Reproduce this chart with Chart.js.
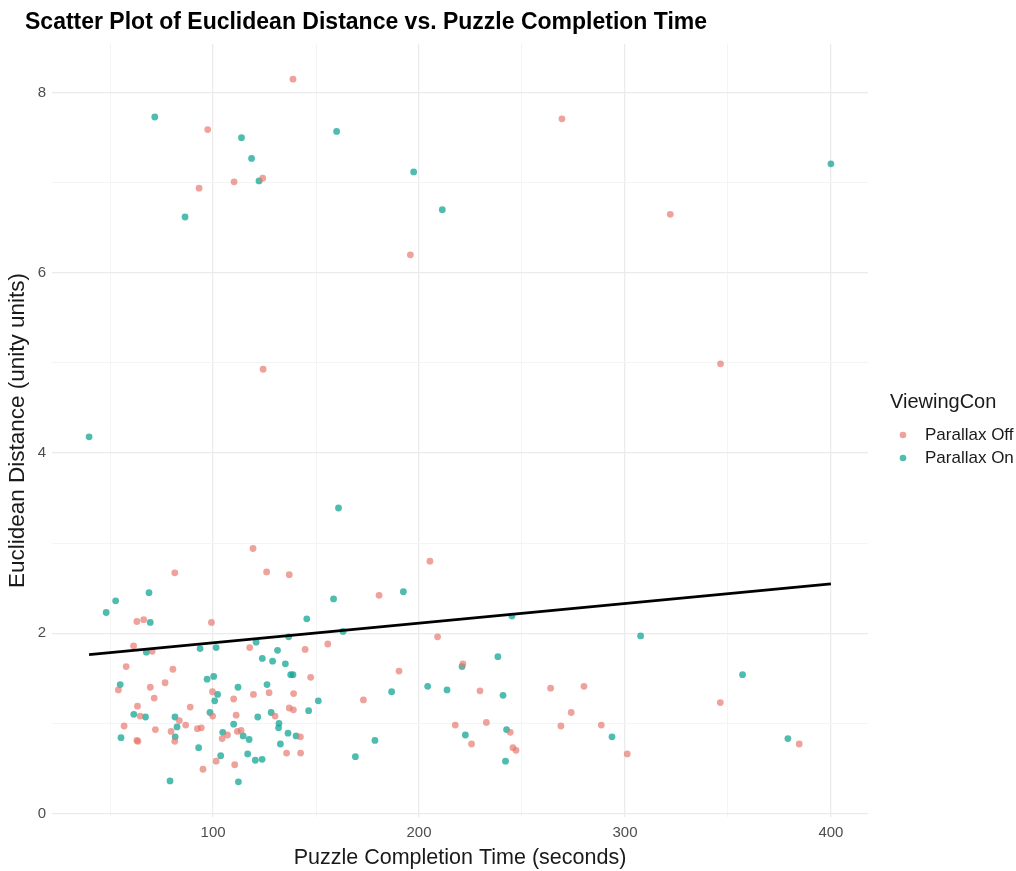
<!DOCTYPE html>
<html>
<head>
<meta charset="utf-8">
<script src="https://cdn.jsdelivr.net/npm/chart.js@4.4.1/dist/chart.umd.min.js"></script>
<style>
html,body{margin:0;padding:0;background:#fff;}
#wrap{width:1016px;height:871px;position:relative;}
</style>
</head>
<body>
<div id="wrap"><canvas id="c"></canvas></div>
<script>
// ---- data ----
const offTime = [138.8,97.4,110.2,124.1,93.2,195.8,269.4,322.0,346.4,124.3,81.4,63.0,66.3,99.2,61.4,70.4,117.8,57.8,80.5,54.0,69.5,76.7,99.7,71.4,110.0,63.3,88.9,64.6,99.8,111.2,83.6,56.8,86.7,92.4,94.3,72.0,79.6,107.0,111.8,113.6,81.4,63.0,63.5,104.4,101.5,110.5,95.1,119.4,126.0,137.0,180.6,205.3,144.7,155.7,209.0,190.3,147.4,119.6,127.2,139.1,173.0,137.0,139.0,130.1,142.4,135.7,142.5,221.3,229.6,263.9,280.1,273.9,217.6,232.7,225.5,244.3,245.6,247.1,268.9,288.5,301.1,346.3,384.6];
const offDist = [8.15,7.59,7.01,7.05,6.94,6.20,7.71,6.65,4.99,4.93,2.67,2.13,2.15,2.12,1.86,1.80,1.84,1.63,1.60,1.37,1.40,1.45,1.35,1.28,1.27,1.19,1.18,1.08,1.08,1.09,1.03,0.97,0.98,0.94,0.95,0.93,0.91,0.87,0.91,0.92,0.80,0.81,0.80,0.83,0.58,0.54,0.49,2.94,2.68,2.65,2.42,2.80,1.82,1.88,1.96,1.58,1.51,1.32,1.34,1.33,1.26,1.17,1.15,1.08,0.85,0.67,0.67,1.66,1.36,1.39,1.41,1.12,0.98,1.01,0.77,0.90,0.73,0.70,0.97,0.98,0.66,1.23,0.77];
const onTime = [71.7,113.8,160.0,118.7,122.3,197.4,211.3,86.4,400.0,39.8,160.9,68.9,52.7,48.1,69.5,67.6,93.7,101.5,97.1,100.3,54.9,112.1,102.2,100.8,98.5,61.5,67.2,81.5,110.0,82.5,104.7,114.6,117.5,55.3,81.6,93.0,116.8,103.7,79.1,112.3,158.5,192.4,145.5,163.1,136.7,120.9,131.3,123.9,128.9,135.1,137.7,138.8,204.2,126.2,151.1,186.7,146.4,128.2,121.7,132.0,131.8,136.4,140.3,132.7,178.6,120.5,123.8,169.1,245.1,307.6,238.3,220.9,213.6,240.8,222.5,242.5,242.0,293.7,357.1,379.1];
const onDist = [7.73,7.50,7.57,7.27,7.02,7.12,6.70,6.62,7.21,4.18,3.39,2.45,2.36,2.23,2.12,1.79,1.83,1.84,1.49,1.52,1.43,1.40,1.32,1.25,1.12,1.10,1.07,1.07,0.99,0.96,0.90,0.86,0.82,0.84,0.85,0.73,0.66,0.64,0.36,0.35,2.38,2.46,2.16,2.02,1.96,1.90,1.81,1.72,1.69,1.66,1.54,1.54,1.41,1.43,1.25,1.35,1.14,1.12,1.07,1.00,0.95,0.89,0.86,0.77,0.81,0.59,0.60,0.63,2.19,1.97,1.74,1.63,1.37,1.31,0.87,0.93,0.58,0.85,1.54,0.83];
const seriesNames = ["Parallax Off","Parallax On"];
const fitIntercept = 1.676;   // fitted line
const fitSlope = 0.002178;
const xTicks = [100,200,300,400];
const yTicks = [0,2,4,6,8];
const xGrid = [50,100,150,200,250,300,350,400];
const yGrid = [0,1,2,3,4,5,6,7,8];

const colOff = 'rgba(230,118,108,0.68)';
const colOn  = 'rgba(20,166,150,0.75)';
const FONT = '"Liberation Sans", Arial, sans-serif';

const toPts = (xs, ys) => xs.map((x,i)=>({x:x, y:ys[i]}));
const allX = offTime.concat(onTime);
const xMin = Math.min(...allX), xMax = Math.max(...allX);
const allY = offDist.concat(onDist);
const yMin = Math.min(...allY), yMax = Math.max(...allY);
const xPad = (xMax-xMin)*0.05, yPad = (yMax-yMin)*0.05;
const fitLine = [{x:xMin, y:fitIntercept+fitSlope*xMin},{x:xMax, y:fitIntercept+fitSlope*xMax}];

const overlay = {
  id:'overlay',
  afterDraw(chart){
    const ctx = chart.ctx;
    ctx.save();
    ctx.fillStyle = '#000';
    ctx.font = 'bold 23px ' + FONT;
    ctx.textBaseline = 'middle';
    ctx.textAlign = 'left';
    ctx.fillText('Scatter Plot of Euclidean Distance vs. Puzzle Completion Time', 25, 23);
    // legend
    ctx.fillStyle = '#1a1a1a';
    ctx.font = '20px ' + FONT;
    ctx.fillText('ViewingCon', 890, 402);
    const cols = [colOff, colOn];
    seriesNames.forEach((n,i)=>{
      const y = 435 + i*23;
      ctx.beginPath();
      ctx.arc(903, y, 3.3, 0, Math.PI*2);
      ctx.fillStyle = cols[i];
      ctx.fill();
      ctx.fillStyle = '#1a1a1a';
      ctx.font = '17px ' + FONT;
      ctx.fillText(n, 925, y);
    });
    ctx.restore();
  }
};

new Chart(document.getElementById('c'), {
  type:'scatter',
  data:{
    datasets:[
      {type:'line', label:'fit', data:fitLine, borderColor:'#000', borderWidth:2.6, pointRadius:0, fill:false, order:0},
      {label:seriesNames[0], data:toPts(offTime,offDist), backgroundColor:colOff, borderWidth:0, pointRadius:3.4, order:1},
      {label:seriesNames[1], data:toPts(onTime,onDist), backgroundColor:colOn, borderWidth:0, pointRadius:3.4, order:2}
    ]
  },
  options:{
    responsive:true, maintainAspectRatio:false, animation:false,
    layout:{padding:{top:44, right:148, left:0, bottom:0}},
    plugins:{legend:{display:false}, title:{display:false}, tooltip:{enabled:false}},
    scales:{
      x:{
        type:'linear', min:xMin-xPad, max:xMax+xPad,
        afterBuildTicks(s){ s.ticks = xGrid.map(v=>({value:v})); },
        afterFit(s){ s.height = 54; },
        border:{display:false},
        grid:{drawTicks:false, color:(c)=>xTicks.includes(c.tick.value)?'#ebebeb':'#f4f4f4', lineWidth:(c)=>xTicks.includes(c.tick.value)?1.3:1},
        ticks:{padding:7, color:'#4d4d4d', font:{size:15, family:FONT}, maxRotation:0, autoSkip:false,
               callback:(v)=>xTicks.includes(v)?String(v):''},
        title:{display:true, text:'Puzzle Completion Time (seconds)', color:'#1a1a1a', font:{size:21.5, family:FONT}, padding:{top:0,bottom:0}}
      },
      y:{
        type:'linear', min:yMin-yPad, max:yMax+yPad,
        afterBuildTicks(s){ s.ticks = yGrid.map(v=>({value:v})); },
        afterFit(s){ s.width = 52; },
        border:{display:false},
        grid:{drawTicks:false, color:(c)=>yTicks.includes(c.tick.value)?'#ebebeb':'#f4f4f4', lineWidth:(c)=>yTicks.includes(c.tick.value)?1.3:1},
        ticks:{padding:6, color:'#4d4d4d', font:{size:15, family:FONT}, autoSkip:false,
               callback:(v)=>yTicks.includes(v)?String(v):''},
        title:{display:true, text:'Euclidean Distance (unity units)', color:'#1a1a1a', font:{size:22.5, family:FONT}, padding:{top:4,bottom:0}}
      }
    }
  },
  plugins:[overlay]
});
</script>
</body>
</html>
